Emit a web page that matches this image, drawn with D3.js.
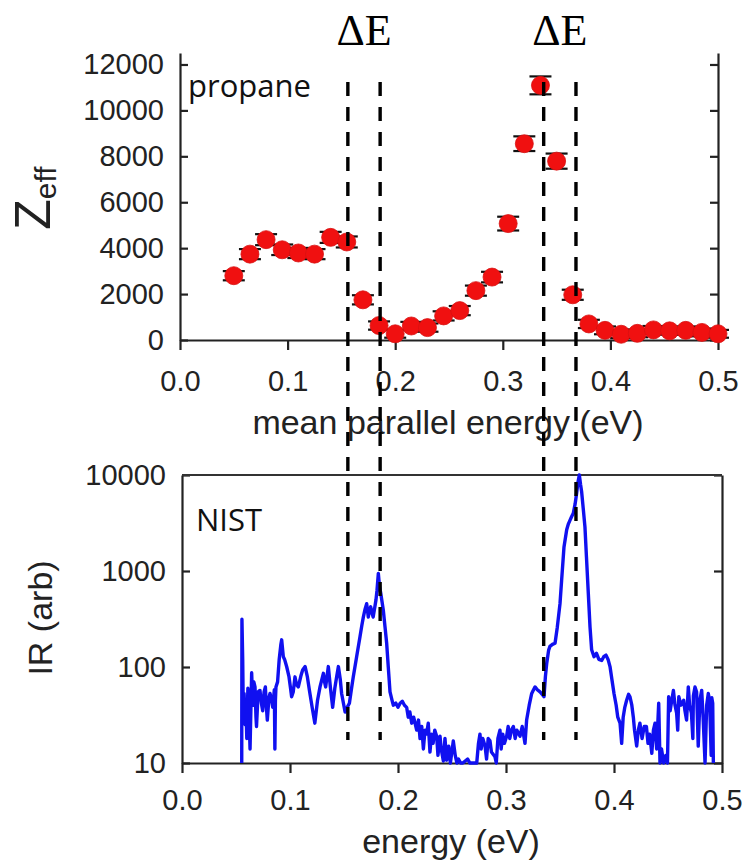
<!DOCTYPE html>
<html>
<head>
<meta charset="utf-8">
<script src="https://cdn.jsdelivr.net/npm/d3@7"></script>
<style>
  html, body { margin: 0; padding: 0; background: #fff; }
  svg { display: block; }
  .tick text { font-family: "Liberation Sans", Arial, sans-serif; fill: #222; }
</style>
</head>
<body>
<svg id="chart" width="742" height="865"></svg>
<script>
// ---------- DATA ----------
// Top panel: Zeff vs mean parallel energy (propane)
const zEnergy = [0.050, 0.065, 0.080, 0.095, 0.110, 0.125, 0.140, 0.155, 0.170, 0.185,
                 0.200, 0.215, 0.230, 0.245, 0.260, 0.275, 0.290, 0.305, 0.320, 0.335,
                 0.350, 0.365, 0.380, 0.395, 0.410, 0.425, 0.440, 0.455, 0.470, 0.485, 0.500];
const zValue  = [2800, 3740, 4370, 3930, 3790, 3740, 4470, 4270, 1750, 630,
                 270, 610, 540, 1050, 1280, 2150, 2740, 5070, 8550, 11090,
                 7790, 1970, 700, 420, 250, 290, 440, 400, 420, 330, 270];
const zError  = [200, 220, 240, 230, 220, 220, 240, 240, 200, 180,
                 170, 180, 180, 200, 200, 220, 230, 300, 320, 390,
                 330, 220, 180, 170, 170, 170, 170, 170, 170, 170, 170];
const zTicks  = [0, 2000, 4000, 6000, 8000, 10000, 12000];
const xTicks  = [0.0, 0.1, 0.2, 0.3, 0.4, 0.5];
const irTicks = [10, 100, 1000, 10000];
// Dashed ΔE markers (energy)
const deltaLines = [0.156, 0.186, 0.338, 0.368];
const deltaLabels = [0.171, 0.353];

// Bottom panel: NIST IR spectrum [energy (eV), intensity (arb)]
const irSpectrum = [
 [0.0553,10],[0.0555,314],[0.0562,120],[0.0568,30],[0.0575,53],[0.0585,25],[0.059,45],[0.060,18],
 [0.061,60],[0.062,35],[0.063,14],[0.0645,87],[0.0655,40],[0.0665,70],[0.0676,62],[0.0685,30],
 [0.069,24],[0.0705,55],[0.0722,57],[0.0735,42],[0.0747,35],[0.076,55],[0.0772,62],[0.078,40],
 [0.079,28],[0.0805,48],[0.0815,53],[0.083,45],[0.084,38],[0.0855,58],[0.086,14],[0.0865,45],
 [0.087,62],[0.0885,70],[0.090,120],[0.0915,170],[0.0923,192],[0.0938,128],[0.095,120],[0.097,100],
 [0.099,80],[0.1005,60],[0.1015,49],[0.103,55],[0.1046,79],[0.106,66],[0.1077,62],[0.110,80],
 [0.1117,93],[0.114,101],[0.116,80],[0.118,57],[0.1205,38],[0.123,26],[0.1255,45],[0.1278,62],
 [0.1309,86],[0.132,70],[0.133,62],[0.1355,101],[0.1375,60],[0.1395,38],[0.1415,60],[0.1432,79],
 [0.1448,101],[0.1465,75],[0.1478,53],[0.151,34],[0.153,38],[0.155,42],[0.157,60],[0.1586,79],
 [0.1617,128],[0.1648,207],[0.1665,270],[0.1679,331],[0.1695,400],[0.171,457],[0.1725,331],[0.1735,390],
 [0.1747,424],[0.176,360],[0.177,331],[0.1785,420],[0.1796,500],[0.1805,620],[0.1818,944],[0.1828,700],
 [0.184,589],[0.1864,390],[0.188,260],[0.1895,177],[0.191,100],[0.1926,55],[0.1945,45],[0.1957,40],
 [0.198,42],[0.200,38],[0.202,42],[0.204,44],[0.206,40],[0.208,38],[0.2095,30],[0.211,34],
 [0.2127,26],[0.2145,30],[0.2173,22],[0.219,28],[0.2204,18],[0.222,24],[0.2235,14],[0.225,22],
 [0.2265,20],[0.228,26],[0.2296,13],[0.231,20],[0.2325,16],[0.234,22],[0.2358,19],[0.237,12],
 [0.2389,19],[0.240,14],[0.242,10.5],[0.2435,18],[0.245,10.7],[0.247,15],[0.2485,10],[0.2512,17],
 [0.253,12],[0.2545,10],[0.256,11],[0.258,10],[0.260,10],[0.2645,11],[0.2665,10],[0.2705,10],
 [0.2729,10],[0.2745,16],[0.2759,20],[0.277,14],[0.2785,18],[0.2806,15],[0.282,11],[0.2835,18],
 [0.2852,17],[0.2865,13],[0.2898,11.6],[0.291,10],[0.2925,18],[0.2944,22],[0.2955,14],[0.297,20],
 [0.2985,16],[0.3006,19],[0.302,24],[0.3035,18],[0.305,22],[0.3068,24],[0.3085,18],[0.310,22],
 [0.313,19],[0.315,24],[0.3176,16],[0.3191,28],[0.3215,40],[0.3238,53],[0.3255,58],[0.3269,62],
 [0.329,58],[0.3315,55],[0.3335,52],[0.3352,49],[0.3365,80],[0.3377,109],[0.3395,150],[0.3407,164],
 [0.343,172],[0.3454,177],[0.3475,260],[0.350,457],[0.3515,800],[0.3537,1780],[0.3562,2690],[0.3578,3100],
 [0.3593,3390],[0.3608,3700],[0.3623,3980],[0.364,5000],[0.3654,6460],[0.3667,8500],[0.3679,10000],[0.369,8000],
 [0.370,6750],[0.3715,4500],[0.3731,2880],[0.3745,1400],[0.3762,589],[0.3778,260],[0.3793,151],[0.3815,128],
 [0.3838,139],[0.386,120],[0.3886,117],[0.3905,128],[0.3926,133],[0.3945,120],[0.3963,101],[0.398,75],
 [0.400,53],[0.402,40],[0.4035,30],[0.4056,26],[0.4071,16],[0.4085,30],[0.410,38],[0.4117,45],
 [0.4135,52],[0.4148,49],[0.4165,40],[0.4179,30],[0.419,22],[0.421,15],[0.4225,22],[0.424,26],
 [0.426,18],[0.428,24],[0.430,24],[0.4315,16],[0.433,20],[0.435,12.6],[0.4365,22],[0.438,26],
 [0.4395,14],[0.4414,42],[0.4426,10],[0.444,14],[0.446,10],[0.448,12],[0.4495,10],[0.4506,49],
 [0.452,35],[0.4535,45],[0.455,57],[0.4565,40],[0.458,33],[0.459,22],[0.460,49],[0.462,40],
 [0.4645,45],[0.4657,35],[0.4672,28],[0.4688,62],[0.470,40],[0.4717,33],[0.473,18],[0.4735,50],
 [0.475,62],[0.4765,55],[0.478,15],[0.4795,45],[0.4812,57],[0.4825,30],[0.4843,10],[0.4858,40],
 [0.4873,53],[0.4885,45],[0.490,12],[0.4905,48],[0.4914,42],[0.492,10]
];

// ---------- DRAW ----------
const svg = d3.select("#chart");
const tickFont = 29;
const serifFont = '"Liberation Serif", "Times New Roman", serif';
const sansFont = '"Liberation Sans", Arial, sans-serif';
const labelFont = '"Open Sans", "Noto Sans", sans-serif';

// Top panel scales
const xTop = d3.scaleLinear().domain([0, 0.5]).range([180, 718]);
const yTop = d3.scaleLinear().domain([0, 12500]).range([340, 53]);

// Bottom panel scales
const xBot = d3.scaleLinear().domain([0, 0.5]).range([182, 722]);
const yBot = d3.scaleLog().domain([10, 10000]).range([763, 475]);

function styleAxis(g) {
  g.selectAll(".domain").attr("stroke", "#222").attr("stroke-width", 2.2);
  g.selectAll(".tick line").attr("stroke", "#222").attr("stroke-width", 2.2);
  g.selectAll(".tick text").style("font-size", tickFont + "px");
}

// ---- Top panel axes ----
svg.append("g").attr("transform", "translate(0,340)")
  .call(d3.axisBottom(xTop).tickValues(xTicks).tickFormat(d3.format(".1f"))
        .tickSizeInner(10).tickSizeOuter(0).tickPadding(20))
  .call(styleAxis);
svg.append("g").attr("transform", "translate(180,0)")
  .call(d3.axisLeft(yTop).tickValues(zTicks).tickFormat(d3.format("d"))
        .tickSizeInner(-8).tickSizeOuter(0).tickPadding(16))
  .call(styleAxis);
svg.append("g").attr("transform", "translate(718,0)")
  .call(d3.axisRight(yTop).tickValues(zTicks).tickFormat("")
        .tickSizeInner(-8).tickSizeOuter(0))
  .call(styleAxis);

// Top panel error bars & points
const zData = zEnergy.map((e, i) => ({e, v: zValue[i], err: zError[i]}));
const eb = svg.append("g");
eb.selectAll("line.stem").data(zData).join("line")
  .attr("x1", d => xTop(d.e)).attr("x2", d => xTop(d.e))
  .attr("y1", d => yTop(d.v - d.err)).attr("y2", d => yTop(d.v + d.err))
  .attr("stroke", "#111").attr("stroke-width", 2);
eb.selectAll("line.capTop").data(zData).join("line")
  .attr("x1", d => xTop(d.e) - 11).attr("x2", d => xTop(d.e) + 11)
  .attr("y1", d => yTop(d.v + d.err)).attr("y2", d => yTop(d.v + d.err))
  .attr("stroke", "#111").attr("stroke-width", 2.2);
eb.selectAll("line.capBot").data(zData).join("line")
  .attr("x1", d => xTop(d.e) - 11).attr("x2", d => xTop(d.e) + 11)
  .attr("y1", d => yTop(d.v - d.err)).attr("y2", d => yTop(d.v - d.err))
  .attr("stroke", "#111").attr("stroke-width", 2.2);
svg.append("g").selectAll("circle").data(zData).join("circle")
  .attr("cx", d => xTop(d.e)).attr("cy", d => yTop(d.v)).attr("r", 9)
  .attr("fill", "#f01010").attr("stroke", "#d81010").attr("stroke-width", 0.8);

// Top panel texts
svg.append("text").attr("x", 188).attr("y", 97)
  .style("font-family", labelFont).style("font-size", "31px").attr("fill", "#111")
  .text("propane");
svg.append("text").attr("x", 448).attr("y", 434).attr("text-anchor", "middle")
  .style("font-family", sansFont).style("font-size", "34px").attr("fill", "#222")
  .text("mean parallel energy (eV)");
const zl = svg.append("text")
  .attr("transform", "translate(50,198) rotate(-90)").attr("text-anchor", "middle")
  .style("font-family", sansFont).attr("fill", "#222");
zl.append("tspan").style("font-size", "50px").text("Z");
zl.append("tspan").style("font-size", "30px").attr("dy", 6).text("eff");

// ---- Bottom panel ----
svg.append("g").attr("transform", "translate(0,763)")
  .call(d3.axisBottom(xBot).tickValues(xTicks).tickFormat(d3.format(".1f"))
        .tickSizeInner(10).tickSizeOuter(0).tickPadding(16))
  .call(styleAxis);
svg.append("g").attr("transform", "translate(182,0)")
  .call(d3.axisLeft(yBot).tickValues(irTicks).tickFormat(d3.format("d"))
        .tickSizeInner(-8).tickSizeOuter(0).tickPadding(16))
  .call(styleAxis);
svg.append("g").attr("transform", "translate(722,0)")
  .call(d3.axisRight(yBot).tickValues(irTicks).tickFormat("")
        .tickSizeInner(-8).tickSizeOuter(0))
  .call(styleAxis);
svg.append("line").attr("x1", xBot(0)).attr("x2", xBot(0.5))
  .attr("y1", yBot(10000)).attr("y2", yBot(10000))
  .attr("stroke", "#333").attr("stroke-width", 2.2);

const line = d3.line().x(d => xBot(d[0])).y(d => yBot(d[1]));
svg.append("path").datum(irSpectrum).attr("d", line)
  .attr("fill", "none").attr("stroke", "#1010f0").attr("stroke-width", 3.4)
  .attr("stroke-linejoin", "round");

svg.append("text").attr("x", 196).attr("y", 531)
  .style("font-family", labelFont).style("font-size", "31px").attr("fill", "#111")
  .text("NIST");
svg.append("text").attr("x", 451).attr("y", 853).attr("text-anchor", "middle")
  .style("font-family", sansFont).style("font-size", "34px").attr("fill", "#222")
  .text("energy (eV)");
svg.append("text")
  .attr("transform", "translate(52,618) rotate(-90)").attr("text-anchor", "middle")
  .style("font-family", sansFont).style("font-size", "34px").attr("fill", "#222")
  .text("IR (arb)");

// ---- Dashed ΔE lines ----
svg.append("g").selectAll("line").data(deltaLines).join("line")
  .attr("x1", d => xTop(d)).attr("x2", d => xTop(d))
  .attr("y1", 82).attr("y2", 740)
  .attr("stroke", "#000").attr("stroke-width", 3.4)
  .attr("stroke-dasharray", "14,11");
svg.append("g").selectAll("text").data(deltaLabels).join("text")
  .attr("x", d => xTop(d)).attr("y", 45).attr("text-anchor", "middle")
  .style("font-family", serifFont).style("font-size", "44px").attr("fill", "#000")
  .text("ΔE");
</script>
</body>
</html>
